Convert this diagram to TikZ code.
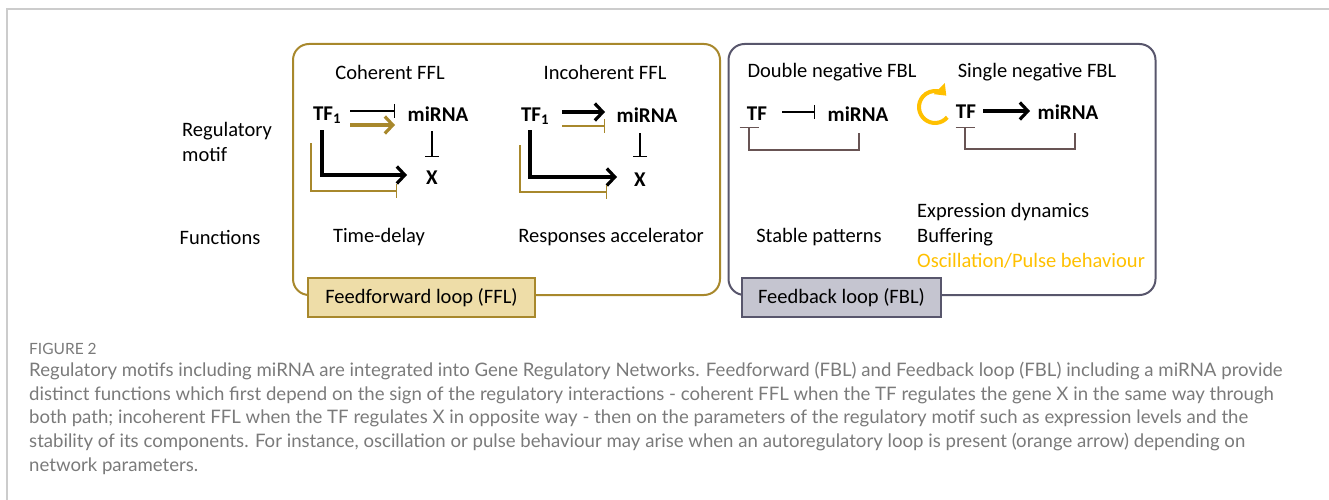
\documentclass[tikz,border=0pt]{standalone}
\usepackage{fontspec}
\setmainfont{Carlito}
\newfontfamily\capfont{Lato}
\usetikzlibrary{arrows.meta}
\definecolor{ffgold}{RGB}{168,136,44}
\definecolor{fffill}{RGB}{238,221,168}
\definecolor{fbgrey}{RGB}{88,86,108}
\definecolor{fbfill}{RGB}{197,197,208}
\definecolor{loopbrown}{RGB}{104,84,84}
\definecolor{osc}{RGB}{255,192,0}
\definecolor{capgrey}{RGB}{122,122,122}

\begin{document}
\begin{tikzpicture}[x=1pt,y=-1pt,
    every node/.style={inner sep=0pt},
    lbl/.style={font=\fontsize{20.5}{24.5}\selectfont},
    gene/.style={font=\bfseries\fontsize{21}{24}\selectfont},
    frame/.style={draw,rounded corners=16pt,line width=2pt,minimum width=427pt,minimum height=251pt},
    tag/.style={draw,line width=2pt,minimum height=39pt,font=\fontsize{20.5}{24.5}\selectfont},
    act/.style={line width=3.2pt,-{Straight Barb[length=8pt,width=17pt]}},
    inh/.style={line width=1.4pt,-{Bar[width=14pt]}},
    captext/.style={anchor=west,text=capgrey,font=\capfont\fontsize{18.6}{22}\selectfont}]

\useasboundingbox (0,0) rectangle (1329,500);
\draw[black!20,line width=1.5pt] (1329,9) -- (7,9) -- (7,500);

\node[frame,draw=ffgold] (ffl) at (506.5,169.5) {};
\node[frame,draw=fbgrey] (fbl) at (942,169.5) {};
\node[tag,draw=ffgold,fill=fffill,minimum width=227pt] (ffltag) at (421.5,297.5) {Feedforward loop (FFL)};
\node[tag,draw=fbgrey,fill=fbfill,minimum width=199pt] (fbltag) at (841.5,297.5) {Feedback loop (FBL)};

\node[lbl,anchor=west,align=left] (motif) at (182,142) {Regulatory\\motif};
\node[lbl] (func) at (220,237) {Functions};

\node[lbl] (cohT) at (390,72) {Coherent FFL};
\node[lbl] (incT) at (605,72) {Incoherent FFL};
\node[lbl] (dnT) at (832,72) {Double negative FBL};
\node[lbl] (snT) at (1037,72) {Single negative FBL};

\node[gene] (tfA) at (327,115) {TF\textsubscript{1}};
\node[gene] (mirA) at (438,114) {miRNA};
\node[gene] (xA) at (432,178) {X};
\draw[inh] ([shift={(23,-4)}]tfA.center) -- ([shift={(-43,-3)}]mirA.center);
\draw[act,ffgold] ([shift={(23,10)}]tfA.center) -- ([shift={(-43,11)}]mirA.center);
\draw[inh] ([shift={(-6,17)}]mirA.center) -- ([shift={(0,-21)}]xA.center);
\draw[act] ([shift={(-5,15)}]tfA.center) |- ([shift={(-25,-3)}]xA.center);
\draw[inh,ffgold] ([shift={(-16,28)}]tfA.center) |- ([shift={(-35,13)}]xA.center);

\node[gene] (tfB) at (535,116) {TF\textsubscript{1}};
\node[gene] (mirB) at (647,115) {miRNA};
\node[gene] (xB) at (640,180) {X};
\draw[act] ([shift={(27,-4)}]tfB.center) -- ([shift={(-42,-3)}]mirB.center);
\draw[inh,ffgold] ([shift={(27,10)}]tfB.center) -- ([shift={(-42,11)}]mirB.center);
\draw[inh] ([shift={(-7,18)}]mirB.center) -- ([shift={(0,-23)}]xB.center);
\draw[act] ([shift={(-5,14)}]tfB.center) |- ([shift={(-23,-3)}]xB.center);
\draw[inh,ffgold] ([shift={(-15,29)}]tfB.center) |- ([shift={(-33,12)}]xB.center);

\node[gene] (tfC) at (757,114) {TF};
\node[gene] (mirC) at (858,114) {miRNA};
\draw[inh] ([shift={(25,-2)}]tfC.center) -- ([shift={(-43,-2)}]mirC.center);
\draw[inh,loopbrown,-{Bar[width=19pt]}] ([shift={(1,19)}]mirC.center) -- ++(0,17) -| ([shift={(-8,13)}]tfC.center);

\node[gene] (tfD) at (966,112) {TF};
\node[gene] (mirD) at (1068,112) {miRNA};
\draw[act] ([shift={(17,-1)}]tfD.center) -- ([shift={(-38,-1)}]mirD.center);
\draw[inh,loopbrown,-{Bar[width=19pt]}] ([shift={(7,21)}]mirD.center) -- ++(0,16) -| ([shift={(-1,15)}]tfD.center);
\draw[osc,line width=4pt,-{Triangle[length=10pt,width=15pt]}] ([shift={(-31,-5)}]tfD.center) ++(40:16) arc[start angle=40,end angle=315,radius=16];

\node[lbl] (fnA) at (379,237) {Time-delay};
\node[lbl] (fnB) at (611,237) {Responses accelerator};
\node[lbl] (fnC) at (819,237) {Stable patterns};
\node[lbl,anchor=west] (fnD) at (917,212) {Expression dynamics};
\node[lbl,anchor=west] (fnE) at (917,237) {Buffering};
\node[lbl,anchor=west,text=osc] (fnF) at (917,261) {Oscillation/Pulse behaviour};

\node[captext,font=\capfont\fontsize{15.5}{18}\selectfont] (fig) at (29,349) {FIGURE 2};
\node[captext] (capA) at (29,371) {Regulatory motifs including miRNA are integrated into Gene Regulatory Networks. Feedforward (FBL) and Feedback loop (FBL) including a miRNA provide};
\node[captext] (capB) at (29,395) {distinct functions which first depend on the sign of the regulatory interactions - coherent FFL when the TF regulates the gene X in the same way through};
\node[captext] (capC) at (29,418) {both path; incoherent FFL when the TF regulates X in opposite way - then on the parameters of the regulatory motif such as expression levels and the};
\node[captext] (capD) at (29,442) {stability of its components. For instance, oscillation or pulse behaviour may arise when an autoregulatory loop is present (orange arrow) depending on};
\node[captext] (capE) at (29,466) {network parameters.};

\end{tikzpicture}
\end{document}
